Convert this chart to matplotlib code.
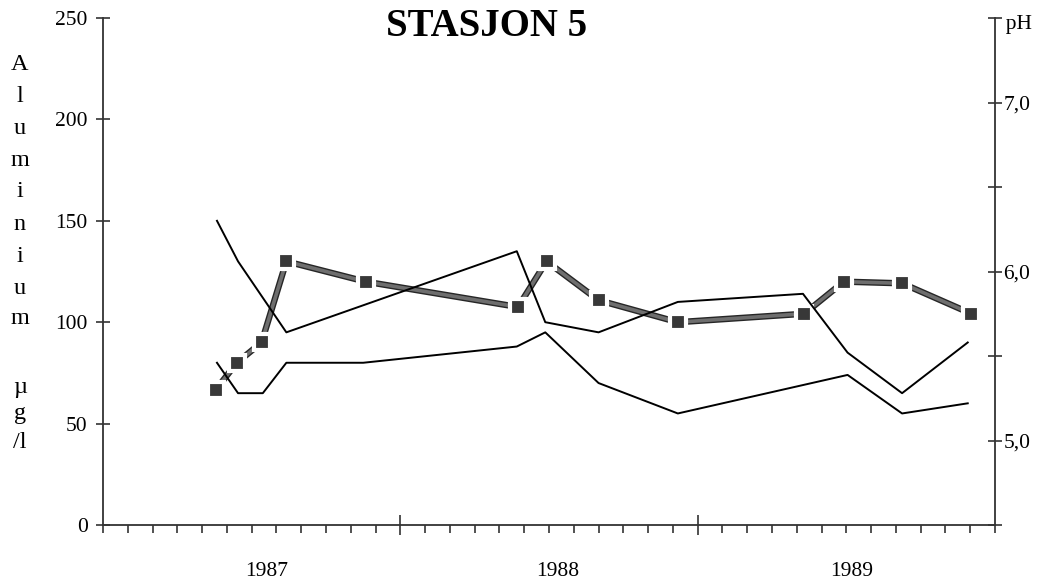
import matplotlib
matplotlib.use("Agg")
import matplotlib.pyplot as plt
import matplotlib.patheffects as pe
from matplotlib.ticker import MultipleLocator, FixedLocator

plt.rcParams["font.family"] = ["Liberation Serif", "DejaVu Serif"]

# Maaneder regnet fra januar 1987 (0 = 1. jan 1987)
MND_AL_TOT = [4.6, 5.45, 7.4, 16.7, 17.85, 20.0, 23.2, 28.25, 30.05, 32.25, 34.9]
AL_TOT = [150, 130, 95, 135, 100, 95, 110, 114, 85, 65, 90]

MND_AL_R = [4.6, 5.45, 6.45, 7.4, 10.5, 16.7, 17.85, 20.0, 23.2, 30.05, 32.25, 34.9]
AL_R = [80, 65, 65, 80, 80, 88, 95, 70, 55, 74, 55, 60]

MND_PH = [4.55, 5.4, 6.4, 7.4, 10.6, 16.75, 17.9, 20.0, 23.2, 28.3, 29.9, 32.25, 35.05]
PH = [5.30, 5.46, 5.58, 6.06, 5.94, 5.79, 6.06, 5.83, 5.70, 5.75, 5.94, 5.93, 5.75]

AAR = ["1987", "1988", "1989"]
AAR_POS = [6.6, 18.35, 30.2]

AL_TICKS = [0, 50, 100, 150, 200, 250]
PH_TICKS = [4.5, 5.0, 5.5, 6.0, 6.5, 7.0, 7.5]
PH_LABELS = ["", "5,0", "", "6,0", "", "7,0", ""]

YLABEL = ["A", "l", "u", "m", "i", "n", "i", "u", "m", "µ", "g", "/l"]
YLABEL_PX = [65, 97, 129, 161, 192, 225, 256, 288, 318, 387, 414, 443]

FS = 15.5
AX_COL = "#333333"

fig = plt.figure(figsize=(10.43, 5.85), dpi=100)
ax = fig.add_axes([103 / 1043, 1 - 525 / 585, (995 - 103) / 1043, (525 - 18) / 585])
ax2 = ax.twinx()

# --- Aluminium (venstre akse) ---
ax.plot(MND_AL_TOT, AL_TOT, color="black", linewidth=1.4, zorder=5)
ax.plot(MND_AL_R, AL_R, color="black", linewidth=1.4, zorder=5)
ax.set_xlim(0, 36)
ax.set_ylim(0, 250)

# --- pH (hoeyre akse) ---
ax2.plot(MND_PH, PH, color="#6e6e6e", linewidth=2.6, solid_capstyle="butt",
         path_effects=[pe.Stroke(linewidth=4.6, foreground="#262626"), pe.Normal()])
ax2.plot(MND_PH, PH, linestyle="none", marker="s", markersize=11.5,
         markerfacecolor="#383838", markeredgecolor="white", markeredgewidth=3.0)
ax2.set_ylim(4.5, 7.5)

# aluminium-linjene skal ligge oeverst
ax.set_zorder(ax2.get_zorder() + 1)
ax.patch.set_visible(False)

for a in (ax, ax2):
    a.spines["top"].set_visible(False)
    for s in a.spines.values():
        s.set_color(AX_COL)
        s.set_linewidth(1.3)
ax.spines["right"].set_visible(False)
ax2.spines["left"].set_visible(False)
ax2.spines["bottom"].set_visible(False)

# y-akser
ax.yaxis.set_major_locator(FixedLocator(AL_TICKS))
ax.tick_params(axis="y", direction="inout", length=10, width=1.2, color=AX_COL,
               labelsize=FS, pad=6)
ax2.yaxis.set_major_locator(FixedLocator(PH_TICKS))
ax2.set_yticklabels(PH_LABELS)
ax2.tick_params(axis="y", direction="inout", length=10, width=1.2, color=AX_COL,
                labelsize=FS, pad=1)
ax2.text(1.0, 0.987, "  pH", transform=ax2.transAxes, ha="left", va="center",
         fontsize=FS)

# x-akse: maanedsstreker, aarsskille
ax.xaxis.set_major_locator(FixedLocator([12, 24]))
ax.xaxis.set_minor_locator(MultipleLocator(1))
ax.set_xticklabels([])
ax.tick_params(axis="x", which="major", direction="inout", length=14, width=1.2,
               color=AX_COL)
ax.tick_params(axis="x", which="minor", direction="out", length=6, width=1.2,
               color=AX_COL)
for lab, xp in zip(AAR, AAR_POS):
    ax.text(xp, -0.092, lab, transform=ax.get_xaxis_transform(), ha="center",
            va="center", fontsize=FS)

# loddrett aksetittel, en bokstav per linje
for ch, ypx in zip(YLABEL, YLABEL_PX):
    fig.text(20 / 1043, 1 - ypx / 585, ch, ha="center", va="center", fontsize=FS + 2)

fig.text(487 / 1043, 1 - 26 / 585, "STASJON 5", ha="center", va="center",
         fontsize=28, fontweight="bold")

fig.savefig("out.png", dpi=100)
